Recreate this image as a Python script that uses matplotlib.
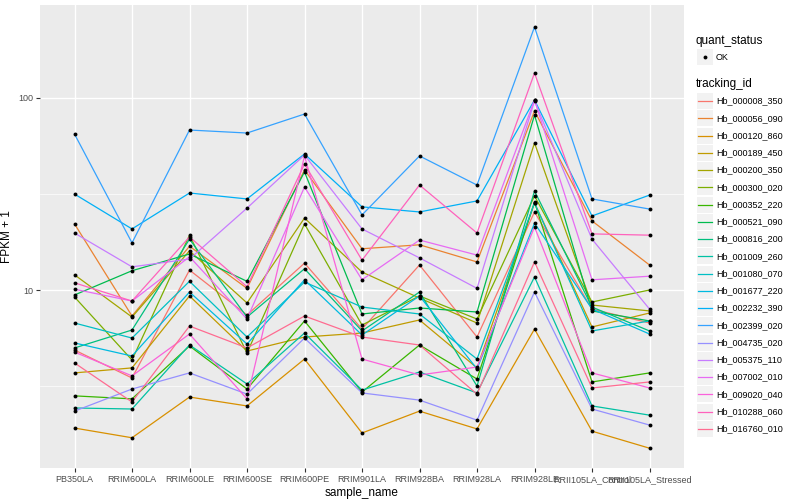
import numpy as np
import matplotlib
matplotlib.use("Agg")
import matplotlib.pyplot as plt
from matplotlib.ticker import FixedLocator, NullFormatter
from matplotlib.lines import Line2D
from matplotlib.patches import Rectangle

plt.rcParams['font.family'] = ['Liberation Sans', 'DejaVu Sans']

samples = ['PB350LA', 'RRIM600LA', 'RRIM600LE', 'RRIM600SE', 'RRIM600PE', 'RRIM901LA',
           'RRIM928BA', 'RRIM928LA', 'RRIM928LE', 'RRII105LA_Control', 'RRII105LA_Stressed']

tracking_ids = ['Hb_000008_350', 'Hb_000056_090', 'Hb_000120_860', 'Hb_000189_450',
                'Hb_000200_350', 'Hb_000300_020', 'Hb_000352_220', 'Hb_000521_090',
                'Hb_000816_200', 'Hb_001009_260', 'Hb_001080_070', 'Hb_001677_220',
                'Hb_002232_390', 'Hb_002399_020', 'Hb_004735_020', 'Hb_005375_110',
                'Hb_007002_010', 'Hb_009020_040', 'Hb_010288_060', 'Hb_016760_010']

# FPKM + 1, one list per tracking_id, in sample order
hb_000008_350 = [4.87, 3.48, 12.7, 7.41, 13.8, 6.26, 13.5, 5.69, 25.5, 7.96, 6.73]
hb_000056_090 = [22.1, 7.32, 16.9, 10.2, 42.2, 16.4, 17.2, 14.0, 85.6, 22.9, 13.5]
hb_000120_860 = [1.91, 1.70, 2.77, 2.49, 4.37, 1.80, 2.34, 1.89, 6.26, 1.84, 1.50]
hb_000189_450 = [3.70, 3.93, 9.31, 4.81, 5.69, 5.97, 6.98, 3.93, 28.4, 6.42, 7.59]
hb_000200_350 = [12.0, 7.23, 16.0, 8.56, 23.7, 12.4, 9.08, 6.73, 58.3, 8.35, 7.78]
hb_000300_020 = [9.20, 4.32, 19.3, 4.70, 22.1, 6.57, 9.31, 7.06, 30.9, 8.66, 10.0]
hb_000352_220 = [2.81, 2.71, 5.11, 3.05, 6.90, 2.94, 5.17, 3.44, 28.7, 3.32, 3.70]
hb_000521_090 = [9.42, 12.6, 15.4, 11.1, 41.2, 7.50, 8.06, 7.68, 81.5, 7.78, 6.90]
hb_000816_200 = [4.99, 6.19, 18.4, 7.23, 12.9, 6.12, 9.76, 3.16, 32.8, 8.15, 6.12]
hb_001009_260 = [2.43, 2.40, 5.17, 3.24, 5.97, 3.01, 3.74, 2.91, 11.7, 2.49, 2.23]
hb_001080_070 = [6.73, 5.62, 11.1, 5.69, 11.0, 8.15, 7.50, 4.37, 28.4, 6.12, 6.90]
hb_001677_220 = [5.30, 4.53, 9.76, 5.23, 11.3, 5.83, 9.31, 3.88, 22.3, 7.96, 5.90]
hb_002232_390 = [31.6, 20.8, 32.0, 29.8, 51.1, 27.1, 25.5, 29.1, 97.6, 24.3, 31.2]
hb_002399_020 = [64.9, 17.6, 68.1, 65.7, 82.5, 24.6, 49.9, 35.2, 234.3, 29.8, 26.4]
hb_004735_020 = [2.34, 3.05, 3.70, 2.87, 5.62, 2.91, 2.67, 2.10, 9.76, 2.40, 1.98]
hb_005375_110 = [19.8, 13.2, 14.5, 26.7, 50.5, 20.8, 14.7, 10.2, 96.5, 18.4, 7.96]
hb_007002_010 = [10.1, 8.76, 14.9, 7.06, 34.4, 11.3, 18.2, 15.2, 97.6, 11.3, 11.8]
hb_009020_040 = [4.75, 3.57, 5.90, 2.71, 49.9, 4.37, 3.61, 3.97, 21.3, 3.70, 3.09]
hb_010288_060 = [10.9, 8.76, 18.9, 10.4, 45.3, 14.3, 35.2, 19.8, 134.9, 19.6, 19.3]
hb_016760_010 = [4.17, 2.61, 6.49, 4.99, 7.32, 5.69, 5.17, 2.87, 14.0, 3.09, 3.32]

series = [hb_000008_350, hb_000056_090, hb_000120_860, hb_000189_450, hb_000200_350,
          hb_000300_020, hb_000352_220, hb_000521_090, hb_000816_200, hb_001009_260,
          hb_001080_070, hb_001677_220, hb_002232_390, hb_002399_020, hb_004735_020,
          hb_005375_110, hb_007002_010, hb_009020_040, hb_010288_060, hb_016760_010]

# ggplot2 hue_pal() for 20 levels
colors = ["#F8766D", "#EA8331", "#D89000", "#C09B00", "#A3A500", "#7CAE00", "#39B600",
          "#00BB4E", "#00BF7D", "#00C1A3", "#00BFC4", "#00BAE0", "#00B0F6", "#35A2FF",
          "#9590FF", "#C77CFF", "#E76BF3", "#FA62DB", "#FF62BC", "#FF6C91"]

fig = plt.figure(figsize=(8, 5), dpi=100)
ax = fig.add_axes([40 / 800, 32 / 500, 644 / 800, 463 / 500])
ax.set_facecolor('#EBEBEB')

x = np.arange(len(samples))
for vals, col in zip(series, colors):
    ax.plot(x, vals, color=col, lw=0.9, zorder=3)
for vals in series:
    ax.plot(x, vals, 'o', color='black', ms=2.8, mew=0, zorder=4)

ax.set_yscale('log')
ax.set_ylim(1.183, 305)
ax.set_xlim(-0.6, len(samples) - 0.4)
ax.yaxis.set_major_locator(FixedLocator([10, 100]))
ax.yaxis.set_major_formatter(matplotlib.ticker.FixedFormatter(['10', '100']))
ax.yaxis.set_minor_locator(FixedLocator([10 ** 0.5, 10 ** 1.5]))
ax.yaxis.set_minor_formatter(NullFormatter())
ax.set_xticks(x)
ax.set_xticklabels(samples)

ax.grid(which='major', color='white', lw=1.0, zorder=1)
ax.grid(which='minor', axis='y', color='white', lw=0.5, zorder=1)
ax.set_axisbelow(True)
for s in ax.spines.values():
    s.set_visible(False)
ax.tick_params(which='major', length=3, width=0.8, color='#333333',
               labelsize=6.5, labelcolor='#4D4D4D', pad=2)
ax.tick_params(which='minor', length=0)

ax.set_xlabel('sample_name', fontsize=8.5, labelpad=2)
ax.set_ylabel('FPKM + 1', fontsize=8.5, labelpad=4)

# legends drawn by hand, ggplot style
def px(xp, yp):
    return xp / 800, 1 - yp / 500

fig.text(*px(696, 41), 'quant_status', fontsize=8.5, va='center', ha='left')
fig.add_artist(Rectangle(px(697, 65), 16 / 800, 16 / 500, facecolor='#F2F2F2',
                         edgecolor='none', transform=fig.transFigure))
fig.add_artist(Line2D([705 / 800], [1 - 57 / 500], marker='o', color='black', ms=2.8,
                      mew=0, transform=fig.transFigure))
fig.text(*px(716, 57), 'OK', fontsize=6.5, va='center', ha='left')

fig.text(*px(696, 84), 'tracking_id', fontsize=8.5, va='center', ha='left')
for i, (name, col) in enumerate(zip(tracking_ids, colors)):
    yc = 101 + i * 17.26
    fig.add_artist(Rectangle(px(697, yc + 8), 16 / 800, 16 / 500, facecolor='#F2F2F2',
                             edgecolor='none', transform=fig.transFigure))
    fig.add_artist(Line2D([698 / 800, 712 / 800], [1 - yc / 500] * 2, color=col, lw=0.9,
                          transform=fig.transFigure))
    fig.text(*px(716, yc), name, fontsize=6.5, va='center', ha='left')

fig.savefig('out.png', dpi=100)
